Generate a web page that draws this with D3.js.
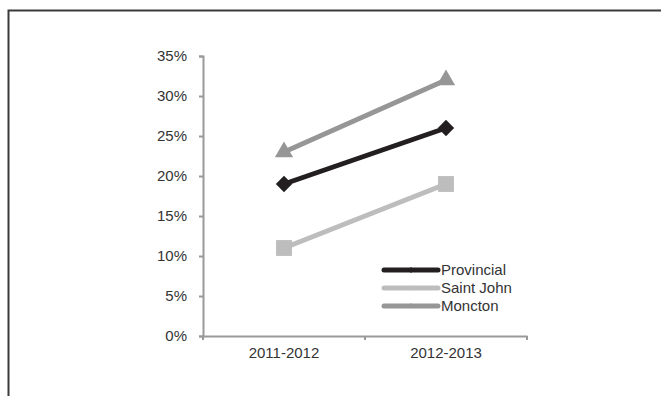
<!DOCTYPE html>
<html>
<head>
<meta charset="utf-8">
<script src="https://cdn.jsdelivr.net/npm/d3@7"></script>
<style>
  html, body { margin: 0; padding: 0; background: #fff; }
  svg { display: block; }
  text { font-family: "Liberation Sans", Arial, sans-serif; fill: #333; }
</style>
</head>
<body>
<svg id="chart" width="661" height="396"></svg>
<script>
// Share of students by school year
const categories = ["2011-2012", "2012-2013"];
const seriesNames = ["Provincial", "Saint John", "Moncton"];
const provincial = [0.19, 0.26];
const saintJohn = [0.11, 0.19];
const moncton = [0.23, 0.32];
const yTicks = [0, 0.05, 0.10, 0.15, 0.20, 0.25, 0.30, 0.35];

const series = [
  { name: seriesNames[0], values: provincial, color: "#231f20", symbol: d3.symbolDiamond2, size: 170 },
  { name: seriesNames[1], values: saintJohn, color: "#bdbdbd", symbol: d3.symbolSquare2, size: 320 },
  { name: seriesNames[2], values: moncton, color: "#969696", symbol: d3.symbolTriangle2, size: 240 }
];

const FONT = "'Liberation Sans', Arial, sans-serif";
const svg = d3.select("#chart");

// outer frame
svg.append("rect")
  .attr("x", 8.5).attr("y", 10.5)
  .attr("width", 700).attr("height", 500)
  .attr("fill", "none").attr("stroke", "#3a3a3a").attr("stroke-width", 2);

const plot = { left: 203, right: 527, top: 56, bottom: 336 };

const x = d3.scaleBand().domain(categories).range([plot.left, plot.right]);
const y = d3.scaleLinear().domain([0, 0.35]).range([plot.bottom, plot.top]);

// y axis
const yAxis = svg.append("g")
  .attr("transform", `translate(${plot.left},0)`)
  .call(d3.axisLeft(y).tickValues(yTicks).tickFormat(d3.format(".0%")).tickSize(4).tickPadding(12));

// x axis
const xAxis = svg.append("g")
  .attr("transform", `translate(0,${plot.bottom})`)
  .call(d3.axisBottom(x).tickSize(0).tickPadding(11));

// category boundary ticks on the x axis
const xBounds = [plot.left, plot.left + x.bandwidth(), plot.right];
xAxis.selectAll("line.bound").data(xBounds).enter().append("line")
  .attr("class", "bound")
  .attr("x1", d => d).attr("x2", d => d)
  .attr("y1", 0).attr("y2", 4);

[yAxis, xAxis].forEach(a => {
  a.selectAll("path.domain").attr("stroke", "#999").attr("stroke-width", 2);
  a.selectAll("line").attr("stroke", "#999").attr("stroke-width", 2);
  a.selectAll("text").attr("font-size", 15).attr("fill", "#3a3a3a")
    .attr("font-family", FONT);
});

const cx = c => x(c) + x.bandwidth() / 2;
const line = d3.line().x((d, i) => cx(categories[i])).y(d => y(d));

// lines and markers
series.forEach(s => {
  svg.append("path")
    .datum(s.values)
    .attr("d", line)
    .attr("fill", "none")
    .attr("stroke", s.color)
    .attr("stroke-width", 5);
  svg.selectAll(null).data(s.values).enter().append("path")
    .attr("d", d3.symbol().type(s.symbol).size(s.size))
    .attr("transform", (d, i) => `translate(${cx(categories[i])},${y(d)})`)
    .attr("fill", s.color);
});

// legend
const legend = svg.append("g").attr("transform", "translate(384,270)");
series.forEach((s, i) => {
  const g = legend.append("g").attr("transform", `translate(0,${i * 18})`);
  g.append("line")
    .attr("x1", 0).attr("x2", 54).attr("y1", 0).attr("y2", 0)
    .attr("stroke", s.color).attr("stroke-width", 5).attr("stroke-linecap", "round");
  g.append("path")
    .attr("d", d3.symbol().type(s.symbol).size(22))
    .attr("transform", "translate(27,0)")
    .attr("fill", s.color);
  g.append("text")
    .attr("x", 57).attr("y", 0).attr("dy", "0.35em")
    .attr("font-size", 15)
    .attr("fill", "#3a3a3a")
    .attr("font-family", FONT)
    .text(s.name);
});
</script>
</body>
</html>
